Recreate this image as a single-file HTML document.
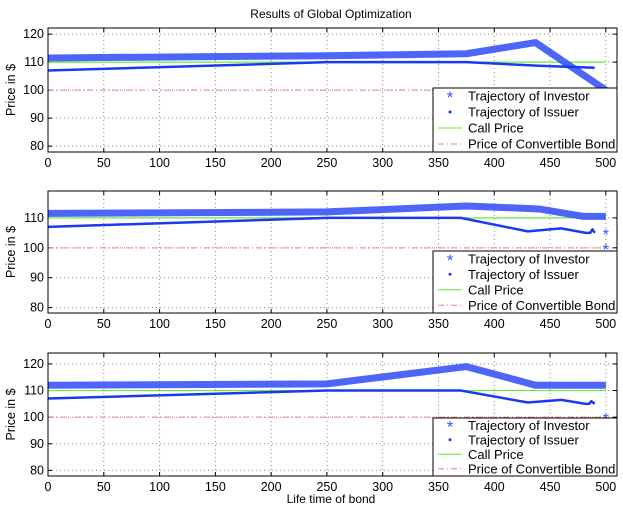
<!DOCTYPE html>
<html><head><meta charset="utf-8"><style>
body{margin:0;background:#fff;}
svg{display:block;font-family:"Liberation Sans",Arial,sans-serif;}
</style></head><body>
<svg id="chart" width="623" height="512">
<rect width="623" height="512" fill="#fff"/>
<text x="331" y="18" font-size="12" text-anchor="middle">Results of Global Optimization</text>
<text x="331" y="503" font-size="12" text-anchor="middle">Life time of bond</text>
</svg>
<script>
const xTicks=[0,50,100,150,200,250,300,350,400,450,500];
const yTicks1=[80,90,100,110,120];
const yTicks2=[80,90,100,110];
const yTicks3=[80,90,100,110,120];
const callX=[0,500]; const callY=[110,110];
const bondX=[0,500]; const bondY=[100,100];
const inv1X=[0,250,375,437,500]; const inv1Y=[111.5,112.3,113,117,100];
const iss1X=[0,250,375,440,490]; const iss1Y=[107,110,110,108.7,108];
const inv2X=[0,250,375,440,480,500]; const inv2Y=[111.5,112,114,113,110.5,110.5];
const inv2ExtraX=[500,500]; const inv2ExtraY=[105,100];
const iss2X=[0,250,370,430,460,482,486,488,490]; const iss2Y=[107,110,110,105.5,106.5,105,105,106.2,105];
const inv3X=[0,250,375,437,500]; const inv3Y=[112,112.5,119,112,112];
const inv3ExtraX=[500]; const inv3ExtraY=[100];
const iss3X=[0,250,370,430,460,482,485,487,490]; const iss3Y=[107,110,110,105.5,106.5,105,105,106,105];
const legendLabels=["Trajectory of Investor","Trajectory of Issuer","Call Price","Price of Convertible Bond"];

const svg=document.getElementById('chart');
const NS='http://www.w3.org/2000/svg';
function mk(tag,attrs,parent){const e=document.createElementNS(NS,tag);for(const k in attrs)e.setAttribute(k,attrs[k]);(parent||svg).appendChild(e);return e;}
const panels=[
 {top:28,bot:152,ymin:77.9,ymax:122.2,yt:yTicks1,inv:[inv1X,inv1Y],ex:null,iss:[iss1X,iss1Y],leg:88},
 {top:191,bot:313,ymin:78.2,ymax:119,yt:yTicks2,inv:[inv2X,inv2Y],ex:[inv2ExtraX,inv2ExtraY],iss:[iss2X,iss2Y],leg:251},
 {top:353,bot:476,ymin:77.9,ymax:124.1,yt:yTicks3,inv:[inv3X,inv3Y],ex:[inv3ExtraX,inv3ExtraY],iss:[iss3X,iss3Y],leg:418}
];
const L=48,R=617,XMAX=510;
function sx(v){return L+(v/XMAX)*(R-L);}
panels.forEach((p,i)=>{
 const sy=v=>p.bot-(v-p.ymin)/(p.ymax-p.ymin)*(p.bot-p.top);
 const g=mk('g',{});
 
 
 xTicks.forEach(t=>{
  const x=sx(t);
  const gl=mk('line',{x1:x,x2:x,y1:p.top,y2:p.bot,stroke:'#888','stroke-dasharray':'1,3','stroke-width':1},g);
  
  
  mk('line',{x1:x,x2:x,y1:p.bot,y2:p.bot-4,stroke:'#000'},g);
  mk('line',{x1:x,x2:x,y1:p.top,y2:p.top+4,stroke:'#000'},g);
  const tl=mk('text',{x:x,y:p.bot+15,'font-size':12.5,'text-anchor':'middle'},g);
  tl.textContent=t;
  
  
 });
 p.yt.forEach(t=>{
  const y=sy(t);
  mk('line',{x1:L,x2:R,y1:y,y2:y,stroke:'#888','stroke-dasharray':'1,3','stroke-width':1},g);
  mk('line',{x1:L,x2:L+4,y1:y,y2:y,stroke:'#000'},g);
  mk('line',{x1:R,x2:R-4,y1:y,y2:y,stroke:'#000'},g);
  const tl=mk('text',{x:L-4,y:y+4,'font-size':12.5,'text-anchor':'end'},g);
  tl.textContent=t;
  
  
 });
 const yl=mk('text',{x:0,y:0,'font-size':12.5,'text-anchor':'middle',transform:`translate(15,${(p.top+p.bot)/2}) rotate(-90)`},g);
 yl.textContent='Price  in $';
 
 
 const pts=(xs,ys)=>xs.map((x,k)=>sx(x)+','+sy(ys[k])).join(' ');
 const b=mk('polyline',{points:pts(bondX,bondY),fill:'none',stroke:'#f08080','stroke-width':1,'stroke-dasharray':'6,3,1,3'},g);
 
 
 const c=mk('polyline',{points:pts(callX,callY),fill:'none',stroke:'#66ee33','stroke-width':1.2},g);
 
 
 const inv=mk('polyline',{points:pts(p.inv[0],p.inv[1]),fill:'none',stroke:'#3a55f8','stroke-width':7,'stroke-linejoin':'round','stroke-opacity':0.9},g);
 
 
 if(p.ex){p.ex[0].forEach((x,k)=>{
  const s=mk('text',{x:sx(x),y:sy(p.ex[1][k])+7,'font-size':16,'text-anchor':'middle',fill:'#3a55f8'},g);
  s.textContent='*';
  
  
 });}
 const iss=mk('polyline',{points:pts(p.iss[0],p.iss[1]),fill:'none',stroke:'#1a3af0','stroke-width':2.5,'stroke-linejoin':'round'},g);
 
 
 const ax=mk('rect',{x:L,y:p.top,width:R-L,height:p.bot-p.top,fill:'none',stroke:'#000'},g);
 
 
 const lx=433,ly=p.leg,lw=184,lh=p.bot-p.leg;
 const lg=mk('g',{},g);
 
 
 mk('rect',{x:lx,y:ly,width:lw,height:lh,fill:'#fff',stroke:'#000'},lg);
 const step=lh/4;
 legendLabels.forEach((lab,k)=>{
  const cy=ly+step*(k+0.5);
  if(k===0){const s=mk('text',{x:lx+17,y:cy+7,'font-size':17,'text-anchor':'middle',fill:'#3a55f8'},lg);s.textContent='*';}
  if(k===1){mk('circle',{cx:lx+17,cy:cy,r:1.5,fill:'#1a3af0'},lg);}
  if(k===2){mk('line',{x1:lx+5,x2:lx+29,y1:cy,y2:cy,stroke:'#66ee33'},lg);}
  if(k===3){mk('line',{x1:lx+5,x2:lx+29,y1:cy,y2:cy,stroke:'#f08080','stroke-dasharray':'6,3,1,3'},lg);}
  const t=mk('text',{x:lx+35,y:cy+4.5,'font-size':13},lg);
  t.textContent=lab;
  
  
 });
});
</script>
</body></html>
